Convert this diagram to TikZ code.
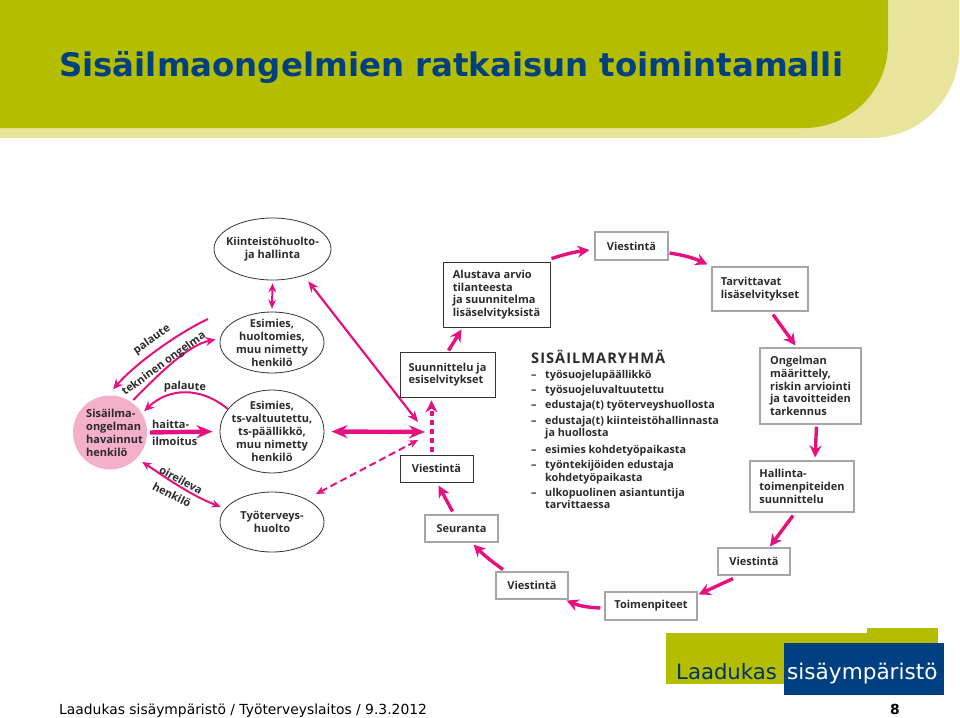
\documentclass[tikz,border=0pt]{standalone}
\usepackage{fontspec}
\setmainfont{Open Sans}
\newfontfamily\verdanafont{DejaVu Sans}
\usepackage{xcolor}
\usetikzlibrary{shapes.geometric, arrows.meta, calc}
\definecolor{headdark}{HTML}{B5BD00}
\definecolor{headlight}{HTML}{E8E49B}
\definecolor{navy}{HTML}{004080}
\definecolor{pinkline}{HTML}{E5117F}
\definecolor{pinkfill}{HTML}{F4AFCB}
\definecolor{inktext}{HTML}{2B2B2B}

\begin{document}
\begin{tikzpicture}[
    x=1pt, y=-1pt,
    box/.style={draw=gray!70, line width=1.1pt, fill=white, align=left, text=inktext,
                inner sep=0pt, font=\bfseries\fontsize{11}{12.7}\selectfont},
    darkbox/.style={box, draw=black!80, line width=0.9pt},
    oval/.style={draw=black!80, ellipse, line width=0.8pt, align=center, text=inktext,
                inner xsep=-10pt, inner ysep=-8pt, font=\bfseries\fontsize{11}{13}\selectfont},
    lab/.style={text=inktext, inner sep=0pt, font=\bfseries\fontsize{11}{13}\selectfont},
    member/.style={lab, anchor=base west, font=\bfseries\fontsize{10.8}{12.6}\selectfont, align=left},
    arrow/.style={-{Stealth[length=12pt, width=12pt]}, pinkline, line width=3.4pt},
    bigarrow/.style={-{Stealth[length=16pt, width=13pt]}, pinkline, line width=4.4pt},
    thinarrow/.style={{Stealth[length=9pt, width=8pt]}-{Stealth[length=9pt, width=8pt]}, pinkline, line width=2pt},
    bendarrow/.style={-{Stealth[length=10pt, width=9pt]}, pinkline, line width=2pt},
    foot/.style={anchor=base west, inner sep=0pt, font=\verdanafont\fontsize{13.87}{16}\selectfont},
]
% Header and logo
\fill[headlight] (0,0) -- (959,0) [rounded corners=88pt] -- (959,138) [sharp corners] -- (0,138) -- cycle;
\fill[headdark] (0,0) -- (888,0) [rounded corners=84pt] -- (888,128) [sharp corners] -- (0,128) -- cycle;
\node[anchor=base west, inner sep=0pt, text=navy, font=\verdanafont\bfseries\fontsize{32.4}{36}\selectfont] (title) at (59,76) {Sisäilmaongelmien ratkaisun toimintamalli};
\fill[headdark] (666,633) rectangle (867,684);
\fill[headdark] (867,628) rectangle (938,660);
\fill[navy] (784,643) rectangle (944,695);
\node[anchor=base west, inner sep=0pt, text=navy!80!black, font=\verdanafont\fontsize{21.2}{24}\selectfont] (logoa) at (676,679) {Laadukas};
\node[anchor=base west, inner sep=0pt, text=white, font=\verdanafont\fontsize{21.6}{24}\selectfont] (logob) at (787,679) {sisäympäristö};
\node[foot] (footer) at (59,714) {Laadukas sisäympäristö / Työterveyslaitos / 9.3.2012};
\node[foot, font=\verdanafont\bfseries\fontsize{13.87}{16}\selectfont] (pageno) at (890,714) {8};

% Ovals on the left
\node[oval, minimum width=117pt, minimum height=62pt] (kiinteisto) at (272.5,249) {Kiinteistöhuolto-\\ja hallinta};
\node[oval, minimum width=104pt, minimum height=61pt] (esimies) at (272,342.5) {Esimies,\\huoltomies,\\muu nimetty\\henkilö};
\node[oval, minimum width=104pt, minimum height=83pt] (tsesimies) at (272,431.5) {Esimies,\\ts-valtuutettu,\\ts-päällikkö,\\muu nimetty\\henkilö};
\node[oval, minimum width=104pt, minimum height=60pt] (tyoterveys) at (272,522) {Työterveys-\\huolto};
\node[lab, circle, fill=pinkfill, inner sep=-10pt, minimum size=74pt, align=left] (havainto) at (110,432.5) {\hspace*{9pt}Sisäilma-\\\hspace*{9pt}ongelman\\\hspace*{9pt}havainnut\\\hspace*{9pt}henkilö};

% Boxes of the cycle
\node[box, minimum width=73pt, minimum height=28pt] (viesta) at (631.5,246) {Viestintä};
\node[box, minimum width=96pt, minimum height=44pt] (tarvittavat) at (760,289) {Tarvittavat\\lisäselvitykset};
\node[box, minimum width=101pt, minimum height=76pt] (ongelma) at (810.5,386) {Ongelman\\määrittely,\\riskin arviointi\\ja tavoitteiden\\tarkennus};
\node[box, minimum width=104pt, minimum height=51pt] (hallinta) at (802,486.5) {Hallinta-\\toimenpiteiden\\suunnittelu};
\node[box, minimum width=72pt, minimum height=27pt] (viestb) at (754,561.5) {Viestintä};
\node[box, minimum width=92pt, minimum height=28pt] (toimet) at (651,606) {Toimenpiteet};
\node[box, minimum width=72pt, minimum height=27pt] (viestc) at (532,585.5) {Viestintä};
\node[box, minimum width=73pt, minimum height=27pt] (seuranta) at (461.5,528.5) {Seuranta};
\node[darkbox, minimum width=73pt, minimum height=27pt] (viestd) at (436.5,468.5) {Viestintä};
\node[darkbox, minimum width=95pt, minimum height=45pt] (suunnittelu) at (447.5,374.5) {Suunnittelu ja\\esiselvitykset};
\node[darkbox, minimum width=107pt, minimum height=65pt] (alustava) at (496.5,294.5) {Alustava arvio\\tilanteesta\\ja suunnitelma\\lisäselvityksistä};

% Member list
\node[lab, anchor=base west, font=\bfseries\fontsize{14.6}{18}\selectfont\addfontfeature{LetterSpace=7}] (ryhma) at (531,363) {SISÄILMARYHMÄ};
\foreach \ypos/\txt [count=\i] in {378/työsuojelupäällikkö, 393/työsuojeluvaltuutettu, 408.5/edustaja(t) työterveyshuollosta, 424/edustaja(t) kiinteistöhallinnasta, 453/esimies kohdetyöpaikasta, 468.5/työntekijöiden edustaja, 496/ulkopuolinen asiantuntija}{
  \node[member] (dash\i) at (531,\ypos) {--};
  \node[member] (item\i) at (545,\ypos) {\txt};
}
\node[member] (item4b) at (545,436.5) {ja huollosta};
\node[member] (item6b) at (545,481) {kohdetyöpaikasta};
\node[member] (item7b) at (545,508.5) {tarvittaessa};

% Cycle arrows
\draw[arrow] (alustava.north east) ++(1,-3) to[bend left=5] ($(viesta.west)+(-5,4)$);
\draw[arrow] ($(viesta.east)+(1,7)$) to[bend left=8] ($(tarvittavat.north west)+(-4,-2)$);
\draw[arrow] ($(tarvittavat.south)+(13,3)$) -- ($(ongelma.north)+(-15,-2)$);
\draw[arrow] ($(ongelma.south)+(6,2)$) -- ($(hallinta.north)+(13,-3)$);
\draw[arrow] ($(hallinta.south)+(-9,3)$) -- ($(viestb.north)+(16,-1)$);
\draw[arrow] ($(viestb.south)+(-21,3)$) -- ($(toimet.north east)+(1,3)$);
\draw[arrow] ($(toimet.west)+(-4,2)$) to[bend left=10] ($(viestc.south east)+(-2,1)$);
\draw[arrow] ($(viestc.north)+(-29,-2)$) to[bend left=5] ($(seuranta.south)+(12,2)$);
\draw[arrow] ($(seuranta.north)+(-9,-3)$) -- ($(viestd.south)+(2,3)$);
\draw[arrow, line width=4pt, dash pattern=on 5pt off 4pt] ($(viestd.north)+(-5,-3)$) -- ($(suunnittelu.south)+(-16,3)$);
\draw[arrow] ($(suunnittelu.north)+(1,-1)$) -- ($(alustava.south west)+(19,2)$);

% Arrows from the group
\coordinate (hubtop) at (418,422);
\coordinate (hubmid) at (425,432);
\coordinate (hubdash) at (418,440);
\draw[thinarrow, {Stealth[length=11pt, width=9pt]}-{Stealth[length=11pt, width=9pt]}, line width=2.2pt] ($(kiinteisto.south east)+(-6,10)$) -- (hubtop);
\draw[bigarrow, {Stealth[length=16pt, width=13pt]}-{Stealth[length=16pt, width=13pt]}] ($(tsesimies.east)+(7,0)$) -- (hubmid);
\draw[thinarrow, dash pattern=on 7pt off 4pt] (316,494) -- (hubdash);

% Arrows on the left
\draw[thinarrow] (kiinteisto.south) ++(0,3) -- ($(esimies.north)+(0,-3)$);
\coordinate (palautestart) at (208,319);
\draw[bendarrow] (palautestart) .. controls (180,332) and (137,362) .. ($(havainto.north)+(3,-6)$);
\draw[bendarrow] (havainto.55) ++(2,-2) .. controls (160,373) and (188,345) .. ($(esimies.west)+(-4,-3)$);
\draw[bendarrow] (tsesimies.153) ++(0,0) .. controls (200,386) and (168,388) .. ($(havainto.33)+(3,-1)$);
\draw[bigarrow] ($(havainto.east)+(3,0)$) -- ($(tsesimies.west)+(-7,0)$);
\draw[thinarrow] ($(havainto.-43)+(5,4)$) .. controls (165,477) and (190,495) .. ($(tyoterveys.163)+(-5,-1)$);

% Arrow labels
\node[lab, rotate=35] (palautea) at (152,340) {palaute};
\node[lab, rotate=36] (tekninen) at (164,364) {tekninen ongelma};
\node[lab, rotate=-2] (palauteb) at (185,387) {palaute};
\node[lab, anchor=west] (haitta) at (152,424) {haitta-};
\node[lab, anchor=west] (ilmoitus) at (152,441) {ilmoitus};
\node[lab, rotate=-29] (oireileva) at (181,480) {oireileva};
\node[lab, rotate=-27] (henkilo) at (172,495) {henkilö};

\useasboundingbox (0,0) rectangle (960,717);
\end{tikzpicture}
\end{document}
